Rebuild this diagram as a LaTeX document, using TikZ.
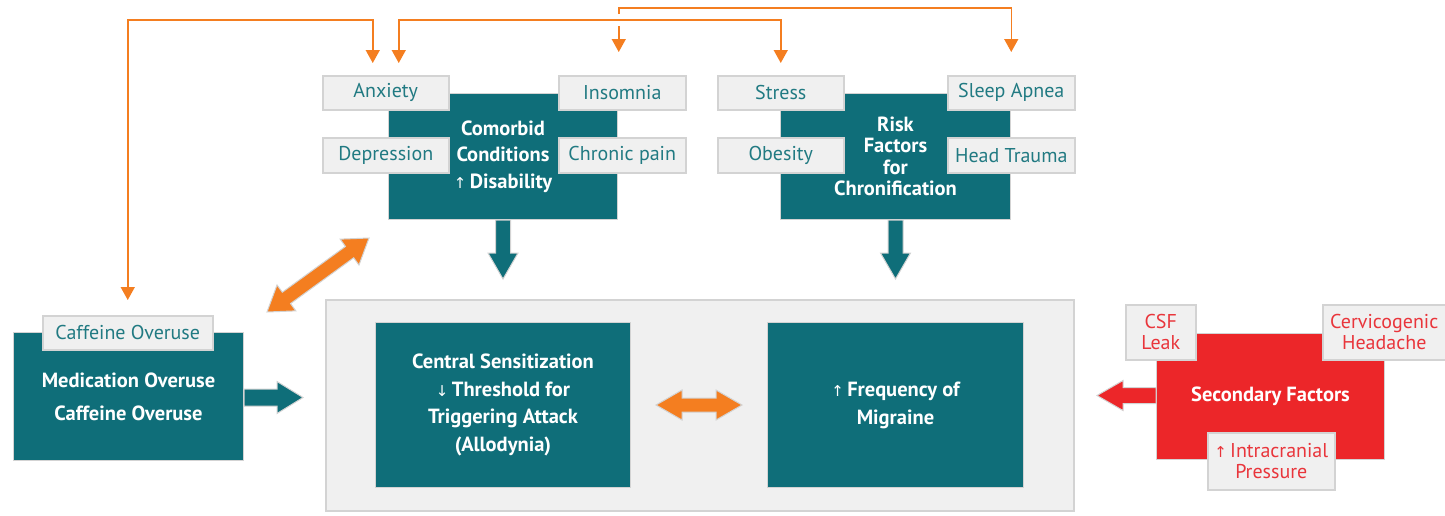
\documentclass[tikz,border=0pt]{standalone}
\usepackage{fontspec}
\setmainfont{PT Sans}
\newfontfamily\arrfont{DejaVu Sans}
\usetikzlibrary{arrows.meta,calc}
\definecolor{tealc}{HTML}{0F6E79}
\definecolor{lgray}{HTML}{F0F0F0}
\definecolor{edgec}{HTML}{D3D3D3}
\definecolor{ltext}{HTML}{217A82}
\definecolor{orangec}{HTML}{F47E20}
\definecolor{redc}{HTML}{EC2629}
\definecolor{redtext}{HTML}{E9353B}
\newcommand\dblarr[6]{%
  \path[#1] (#2)
   -- ($(#2)!#6!(#3)!#5!90:(#3)$) -- ($(#2)!#6!(#3)!#4!90:(#3)$)
   -- ($(#3)!#6!(#2)!#4!-90:(#2)$) -- ($(#3)!#6!(#2)!#5!-90:(#2)$)
   -- (#3)
   -- ($(#3)!#6!(#2)!#5!90:(#2)$) -- ($(#3)!#6!(#2)!#4!90:(#2)$)
   -- ($(#2)!#6!(#3)!#4!-90:(#3)$) -- ($(#2)!#6!(#3)!#5!-90:(#3)$)
   -- cycle;}
\newcommand\sglarr[6]{%
  \path[#1] ($(#2)!#4!90:(#3)$)
   -- ($(#3)!#6!(#2)!#4!-90:(#2)$) -- ($(#3)!#6!(#2)!#5!-90:(#2)$)
   -- (#3)
   -- ($(#3)!#6!(#2)!#5!90:(#2)$) -- ($(#3)!#6!(#2)!#4!90:(#2)$)
   -- ($(#2)!#4!-90:(#3)$) -- cycle;}
\newcommand\uparr{{\arrfont\mdseries\fontsize{15}{15}\selectfont↑}}
\newcommand\downarr{{\arrfont\mdseries\fontsize{15}{15}\selectfont↓}}
\begin{document}
\begin{tikzpicture}[x=1pt,y=-1pt,
  tbox/.style={fill=tealc, draw=edgec, line width=1pt, anchor=north west, inner sep=0pt,
    text=white, align=center, font=\bfseries\fontsize{20.5}{26.5}\selectfont},
  rbox/.style={tbox, fill=redc},
  lbox/.style={fill=lgray, draw=edgec, line width=1.5pt, anchor=north west, inner sep=0pt,
    text=ltext, align=center, font=\fontsize{20}{21}\selectfont},
  rlbox/.style={lbox, text=redtext},
  oline/.style={draw=orangec, line width=1.5pt, arrows={-Triangle[width=14pt,length=13pt]}},
  tarr/.style={fill=tealc, draw=edgec, line width=1pt},
  oarr/.style={fill=orangec, draw=edgec, line width=1pt},
  rarr/.style={fill=redc, draw=edgec, line width=1pt}]
\useasboundingbox (0,0) rectangle (1445,515);

% core grey box
\node[lbox, minimum width=748pt, minimum height=211pt] (core) at (325,299) {};
\node[tbox, minimum width=255pt, minimum height=165pt, font=\bfseries\fontsize{20.5}{27.7}\selectfont]
  (cen) at (375,322) {Central Sensitization\\\downarr\,Threshold for\\Triggering Attack\\(Allodynia)};
\node[tbox, minimum width=256pt, minimum height=165pt, font=\bfseries\fontsize{20.5}{28}\selectfont]
  (frq) at (767,322) {\uparr\,Frequency of\\Migraine};

% comorbid
\node[tbox, minimum width=229pt, minimum height=126pt] (com) at (388,93)
  {Comorbid\\Conditions\\\uparr\,Disability};
\node[lbox, minimum width=126pt, minimum height=34pt] (anx) at (322,75) {Anxiety};
\node[lbox, minimum width=127pt, minimum height=34pt] (ins) at (558,75) {Insomnia};
\node[lbox, minimum width=126pt, minimum height=35pt] (dep) at (322,137) {Depression};
\node[lbox, minimum width=127pt, minimum height=35pt] (chr) at (558,137) {Chronic pain};

% risk
\node[tbox, minimum width=230pt, minimum height=126pt, font=\bfseries\fontsize{20.5}{21.5}\selectfont]
  (rsk) at (780,93) {Risk\\Factors\\for\\Chronification};
\node[lbox, minimum width=126pt, minimum height=34pt] (str) at (717,75) {Stress};
\node[lbox, minimum width=127pt, minimum height=34pt] (slp) at (947,75) {Sleep Apnea};
\node[lbox, minimum width=126pt, minimum height=35pt] (obe) at (717,137) {Obesity};
\node[lbox, minimum width=127pt, minimum height=35pt] (hea) at (947,137) {Head Trauma};

% medication overuse
\node[tbox, minimum width=230pt, minimum height=128pt, font=\bfseries\fontsize{20.5}{33}\selectfont]
  (med) at (13,332) {Medication Overuse\\Caffeine Overuse};
\node[lbox, minimum width=170pt, minimum height=34pt] (caf) at (42,315) {Caffeine Overuse};

% secondary
\node[rbox, minimum width=228pt, minimum height=126pt] (sec) at (1156,333) {Secondary Factors};
\node[rlbox, minimum width=70pt, minimum height=55pt] (csf) at (1125,304) {CSF\\Leak};
\node[rlbox, minimum width=123pt, minimum height=55pt] (cer) at (1322,304) {Cervicogenic\\Headache};
\node[rlbox, minimum width=127pt, minimum height=57pt] (icp) at (1207,432)
  {{\arrfont\fontsize{15}{15}\selectfont↑}\,Intracranial\\Pressure};

% block arrows
\coordinate (comT) at ($(com.south)+(0,0)$);
\coordinate (comH) at ($(com.south)+(0,59)$);
\sglarr{tarr}{comT}{comH}{7.5pt}{15pt}{26pt}
\coordinate (rskT) at ($(rsk.south)+(0,0)$);
\coordinate (rskH) at ($(rsk.south)+(0,59)$);
\sglarr{tarr}{rskT}{rskH}{7.5pt}{15pt}{26pt}
\coordinate (medT) at ($(med.east)+(0,1)$);
\coordinate (medH) at ($(med.east)+(59,1)$);
\sglarr{tarr}{medT}{medH}{8.5pt}{16pt}{26pt}
\coordinate (secT) at ($(sec.west)+(0,-1)$);
\coordinate (secH) at ($(sec.west)+(-59,-1)$);
\sglarr{rarr}{secT}{secH}{8pt}{15pt}{26pt}
\coordinate (d1) at (267,312);
\coordinate (d2) at (369,238);
\dblarr{oarr}{d1}{d2}{7pt}{16pt}{24pt}
\coordinate (h1) at ($(cen.east)+(25,0)$);
\coordinate (h2) at ($(frq.west)+(-25,0)$);
\dblarr{oarr}{h1}{h2}{7pt}{15pt}{26pt}

% orange connectors
\coordinate (ya) at (0,20);
\coordinate (yc) at (0,8);
\coordinate (a1) at ($(caf.north)+(0,-15)$);
\coordinate (a2) at ($(anx.north)+(-13,-12)$);
\coordinate (b1) at ($(anx.north)+(13,-12)$);
\coordinate (b2) at ($(str.north)+(0,-12)$);
\coordinate (c1) at ($(ins.north)+(-3.5,-23)$);
\coordinate (c2) at ($(slp.north)+(0,-23)$);
\draw[oline, arrows={Triangle[width=14pt,length=13pt]-Triangle[width=14pt,length=13pt]}]
  (a1) -- (a1 |- ya) -| (a2);
\draw[oline, arrows={Triangle[width=14pt,length=13pt]-Triangle[width=14pt,length=13pt]}]
  (b1) -- (b1 |- ya) -| (b2);
\draw[oline, arrows={Triangle[width=14pt,length=13pt]-}] (c1) -- ($(c1)+(0,-26)$);
\draw[oline] ($(c1)+(0,-38)$) -- (c1 |- yc) -| (c2);
\end{tikzpicture}
\end{document}
